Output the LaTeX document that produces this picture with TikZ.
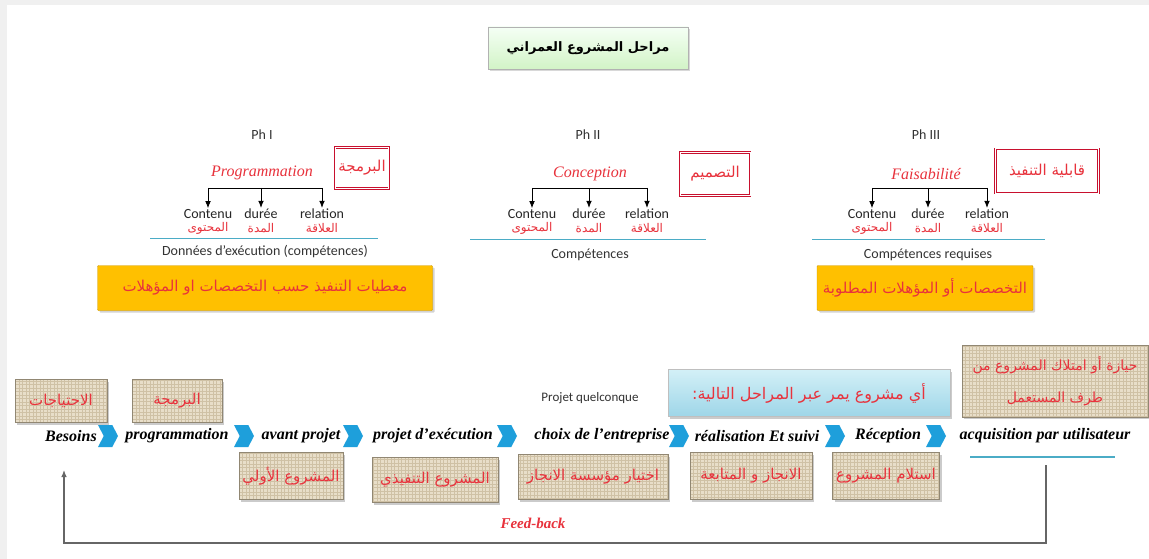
\documentclass[tikz,border=0pt]{standalone}
\usepackage{fontspec}
\setmainfont{Liberation Serif}
\newfontfamily\calib{Carlito}
\newfontfamily\arfont[Script=Arabic]{DejaVu Sans}
\TeXXeTstate=1
\usetikzlibrary{arrows.meta,positioning,shapes.symbols,shadows,calc}
\definecolor{mpRed}{HTML}{E8323C}
\definecolor{mpBoxRed}{HTML}{C8102E}
\definecolor{mpBlue}{HTML}{1E9FDB}
\definecolor{mpLine}{HTML}{4BACC6}
\definecolor{mpOrange}{HTML}{FFC000}
\definecolor{mpBeige}{HTML}{E8DEC9}
\definecolor{mpGrid}{HTML}{CFC1A5}
\definecolor{mpWaterA}{HTML}{D3F0F7}
\definecolor{mpWaterB}{HTML}{9ED6E8}
\newcommand{\artxt}[1]{{\arfont\beginR #1\endR}}

\begin{document}
\begin{tikzpicture}[x=1pt,y=-1pt,
  ph/.style={font=\calib\fontsize{14}{16}\selectfont,text=black!80,inner sep=1pt},
  phnom/.style={font=\fontsize{16}{18}\selectfont\itshape,text=mpRed,inner sep=1pt},
  sous/.style={font=\calib\fontsize{14}{16}\selectfont,text=black!85,inner sep=0pt},
  sousar/.style={font=\arfont\fontsize{12}{13}\selectfont,text=mpRed,inner sep=0pt},
  cadre/.style={draw=mpBoxRed,double=white,double distance=1pt,line width=0.8pt,
    fill=white,font=\arfont\fontsize{15}{17}\selectfont,text=mpRed},
  orange/.style={draw=mpOrange!80!black,fill=mpOrange,rounded corners=1pt,
    drop shadow={shadow xshift=2pt,shadow yshift=-2pt,fill=black!35},
    font=\arfont\fontsize{15}{17}\selectfont,text=mpRed},
  beige/.style={draw=mpGrid!70!black,fill=mpBeige,align=center,
    drop shadow={shadow xshift=2pt,shadow yshift=-2pt,fill=black!40},
    path picture={\draw[mpGrid,line width=0.3pt,step=3.5pt]
      (path picture bounding box.south west) grid (path picture bounding box.north east);},
    font=\arfont\fontsize{15}{32}\selectfont,text=mpRed},
  etape/.style={font=\bfseries\itshape\fontsize{16}{18}\selectfont,inner sep=0pt},
  chev/.style={shape=signal,signal to=east,signal from=west,signal pointer angle=125,
    fill=mpBlue,minimum width=20pt,minimum height=22pt,inner sep=0pt},
  ar/.style={-{Latex[length=2.5mm,width=2mm]},draw=black,line width=0.8pt},
  sep/.style={draw=mpLine,line width=1pt},
  fb/.style={-{Latex[length=2.5mm,width=2mm]},draw=black!60,line width=1.2pt}
]
\useasboundingbox (0,0) rectangle (1149,559);
\fill[black!6] (0,0) rectangle (1149,559);
\fill[white] (7,5) rectangle (1149,559);

% titre
\node[draw=black!30,top color=green!4,bottom color=green!60!olive!22,
  drop shadow={shadow xshift=2pt,shadow yshift=-2pt,fill=black!30},
  minimum width=200pt,minimum height=42pt,
  font=\arfont\bfseries\fontsize{13}{15}\selectfont] (titre) at (588,48)
  {\artxt{مراحل المشروع العمراني}};

% Ph I
\node[ph] (p1) at (262,135) {Ph I};
\node[phnom] (p1-nom) at (262,173) {Programmation};
\node[cadre,minimum width=50pt,minimum height=41pt] (p1-ar) at (362,168) {\artxt{البرمجة}};
\node[sous] (p1-c1) at (208,214) {Contenu};
\node[sous] (p1-c2) at (261,214) {durée};
\node[sous] (p1-c3) at (322,214) {relation};
\node[sousar] (p1-a1) at (208,228) {\artxt{المحتوى}};
\node[sousar] (p1-a2) at (261,228) {\artxt{المدة}};
\node[sousar] (p1-a3) at (322,228) {\artxt{العلاقة}};
\coordinate (p1-bar) at (262,188);
\draw[line width=0.8pt] (p1-c1.north |- p1-bar) -- (p1-c3.north |- p1-bar);
\foreach \k in {1,2,3} \draw[ar] (p1-c\k.north |- p1-bar) -- ([yshift=1pt]p1-c\k.north);
\draw[sep] (150,238) -- (378,238);
\node[ph] (p1-don) at (265,252) {Données d’exécution (compétences)};
\node[orange,minimum width=335pt,minimum height=45pt] (p1-or) at (265,288)
  {\artxt{معطيات التنفيذ حسب التخصصات او المؤهلات}};

% Ph II
\node[ph] (p2) at (588,135) {Ph II};
\node[phnom] (p2-nom) at (590,174) {Conception};
\node[cadre,minimum width=70pt,minimum height=43pt] (p2-ar) at (715,174) {\artxt{التصميم}};
\node[sous] (p2-c1) at (532,214) {Contenu};
\node[sous] (p2-c2) at (589,214) {durée};
\node[sous] (p2-c3) at (647,214) {relation};
\node[sousar] (p2-a1) at (532,228) {\artxt{المحتوى}};
\node[sousar] (p2-a2) at (589,228) {\artxt{المدة}};
\node[sousar] (p2-a3) at (647,228) {\artxt{العلاقة}};
\coordinate (p2-bar) at (590,188);
\draw[line width=0.8pt] (p2-c1.north |- p2-bar) -- (p2-c3.north |- p2-bar);
\foreach \k in {1,2,3} \draw[ar] (p2-c\k.north |- p2-bar) -- ([yshift=1pt]p2-c\k.north);
\draw[sep] (470,239) -- (706,239);
\node[ph] (p2-comp) at (590,255) {Compétences};

% Ph III
\node[ph] (p3) at (926,135) {Ph III};
\node[phnom] (p3-nom) at (926,174) {Faisabilité};
\node[cadre,minimum width=103pt,minimum height=44pt] (p3-ar) at (1047,171) {\artxt{قابلية التنفيذ}};
\node[sous] (p3-c1) at (872,214) {Contenu};
\node[sous] (p3-c2) at (928,214) {durée};
\node[sous] (p3-c3) at (987,214) {relation};
\node[sousar] (p3-a1) at (872,228) {\artxt{المحتوى}};
\node[sousar] (p3-a2) at (928,228) {\artxt{المدة}};
\node[sousar] (p3-a3) at (987,228) {\artxt{العلاقة}};
\coordinate (p3-bar) at (928,188);
\draw[line width=0.8pt] (p3-c1.north |- p3-bar) -- (p3-c3.north |- p3-bar);
\foreach \k in {1,2,3} \draw[ar] (p3-c\k.north |- p3-bar) -- ([yshift=1pt]p3-c\k.north);
\draw[sep] (812,239) -- (1045,239);
\node[ph] (p3-comp) at (928,255) {Compétences requises};
\node[orange,minimum width=216pt,minimum height=45pt] (p3-or) at (925,288)
  {\artxt{التخصصات أو المؤهلات المطلوبة}};

% boites du haut
\node[beige,minimum width=92pt,minimum height=43pt] (b-besoins) at (61,401) {\artxt{الاحتياجات}};
\node[beige,minimum width=90pt,minimum height=43pt] (b-prog) at (177,401) {\artxt{البرمجة}};
\node[ph,font=\calib\fontsize{13}{15}\selectfont] (quelc) at (590,398) {Projet quelconque};
\node[draw=black!25,top color=mpWaterA,bottom color=mpWaterB,
  drop shadow={shadow xshift=2pt,shadow yshift=-2pt,fill=black!40},
  minimum width=282pt,minimum height=47pt,
  font=\arfont\fontsize{16}{18}\selectfont,text=mpRed] (b-tous) at (809,393)
  {\artxt{أي مشروع يمر عبر المراحل التالية:}};
\node[beige,minimum width=186pt,minimum height=72pt,font=\arfont\fontsize{14}{32}\selectfont]
  (b-acq) at (1055,381)
  {\artxt{حيازة أو امتلاك المشروع من}\\ \artxt{طرف المستعمل}};

% la chaine des etapes
\node[etape] (e1) at (71,436) {Besoins};
\node[etape] (e2) at (177,436) {programmation};
\node[etape] (e3) at (301,436) {avant projet};
\node[etape] (e4) at (433,436) {projet d’exécution};
\node[etape] (e5) at (602,436) {choix de l’entreprise};
\node[etape] (e6) at (757,436) {réalisation Et suivi};
\node[etape] (e7) at (888,436) {Réception};
\node[etape] (e8) at (1045,436) {acquisition par utilisateur};
\foreach \x [count=\i] in {108,244,353,507,679,835,936}
  \node[chev] (ch\i) at (\x,436) {};
\draw[mpLine,line width=2pt] (970,457) -- (1115,457);

% boites du bas
\node[beige,minimum width=103pt,minimum height=47pt] (b-avp) at (291,476) {\artxt{المشروع الأولي}};
\node[beige,minimum width=126pt,minimum height=45pt] (b-exe) at (435,480) {\artxt{المشروع التنفيذي}};
\node[beige,minimum width=150pt,minimum height=45pt] (b-choix) at (593,477) {\artxt{اختيار مؤسسة الانجاز}};
\node[beige,minimum width=122pt,minimum height=47pt] (b-real) at (751,476) {\artxt{الانجاز و المتابعة}};
\node[beige,minimum width=107pt,minimum height=47pt] (b-recep) at (886,476) {\artxt{استلام المشروع}};

% feed-back
\coordinate (fb-dep) at (1046,465);
\coordinate (fb-bas) at (555,543);
\coordinate (fb-arr) at (64,470);
\draw[fb] (fb-dep) |- (fb-bas) -| (fb-arr);
\node[font=\bfseries\itshape\fontsize{15}{17}\selectfont,text=mpRed] (fb-txt) at (533,523) {Feed-back};
\end{tikzpicture}
\end{document}
